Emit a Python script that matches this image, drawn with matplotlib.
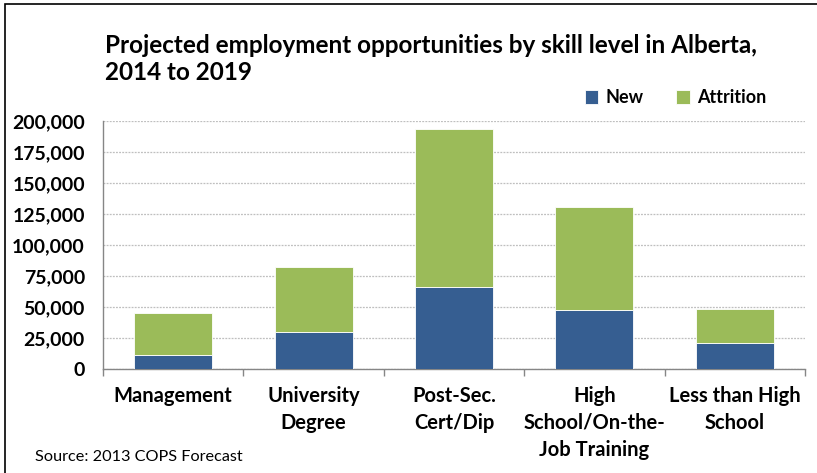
import matplotlib.pyplot as plt
from matplotlib.patches import Rectangle
from matplotlib.ticker import FuncFormatter, MultipleLocator, FixedLocator

categories = ['Management', 'University\nDegree', 'Post-Sec.\nCert/Dip',
              'High\nSchool/On-the-\nJob Training', 'Less than High\nSchool']
new_jobs = [11300, 30100, 66400, 47600, 21200]
attrition = [33600, 52200, 126900, 83300, 26900]

blue = '#365E91'
green = '#9BBB59'

plt.rcParams['font.family'] = ['Lato', 'DejaVu Sans']
plt.rcParams['font.weight'] = 'bold'

fig = plt.figure(figsize=(8.17, 4.73), dpi=100)
ax = fig.add_axes([103 / 817, 1 - 369 / 473, 702 / 817, 248 / 473])

x = list(range(len(categories)))
ax.bar(x, new_jobs, width=0.555, color=blue, edgecolor='white', linewidth=0.6,
       label='New', zorder=3)
ax.bar(x, attrition, width=0.555, bottom=new_jobs, color=green, edgecolor='white',
       linewidth=0.6, label='Attrition', zorder=3)

ax.set_xlim(-0.5, len(categories) - 0.5)
ax.set_ylim(0, 200000)
ax.yaxis.set_major_locator(MultipleLocator(25000))
ax.yaxis.set_major_formatter(FuncFormatter(lambda v, p: f'{int(v):,}'))
ax.grid(axis='y', color='#BFBFBF', linestyle=(0, (1.5, 1)), linewidth=0.9, zorder=0)

ax.set_xticks(x)
ax.set_xticklabels(categories, fontweight='bold', fontsize=14.5, linespacing=1.45)
ax.xaxis.set_minor_locator(FixedLocator([i - 0.5 for i in range(len(categories) + 1)]))
ax.tick_params(axis='x', which='major', length=0, pad=12)
ax.tick_params(axis='x', which='minor', length=5, color='#868686', width=1)
ax.tick_params(axis='y', length=0, pad=13, labelsize=14)

for side in ['top', 'right']:
    ax.spines[side].set_visible(False)
for side in ['left', 'bottom']:
    ax.spines[side].set_color('#868686')
    ax.spines[side].set_linewidth(1)

fig.text(105 / 817, 1 - 59 / 473,
         'Projected employment opportunities by skill level in Alberta,\n2014 to 2019',
         fontsize=17.5, fontweight='bold', va='center', ha='left', linespacing=1.26)

leg = ax.legend(loc='lower right', bbox_to_anchor=(0.955, 1.03), ncol=2, frameon=False,
                handlelength=0.75, handleheight=0.75, handletextpad=0.4, columnspacing=1.8,
                prop={'weight': 'bold', 'size': 13}, borderaxespad=0)

fig.text(35 / 817, 1 - 457 / 473, 'Source: 2013 COPS Forecast', fontsize=11.7,
         fontweight='normal', va='center', ha='left')

fig.patches.append(Rectangle((5 / 817, -0.1), 1.2, 1 - 4 / 473 + 0.1,
                             transform=fig.transFigure, fill=False,
                             edgecolor='black', linewidth=1.2))

fig.savefig('out.png', dpi=100)
